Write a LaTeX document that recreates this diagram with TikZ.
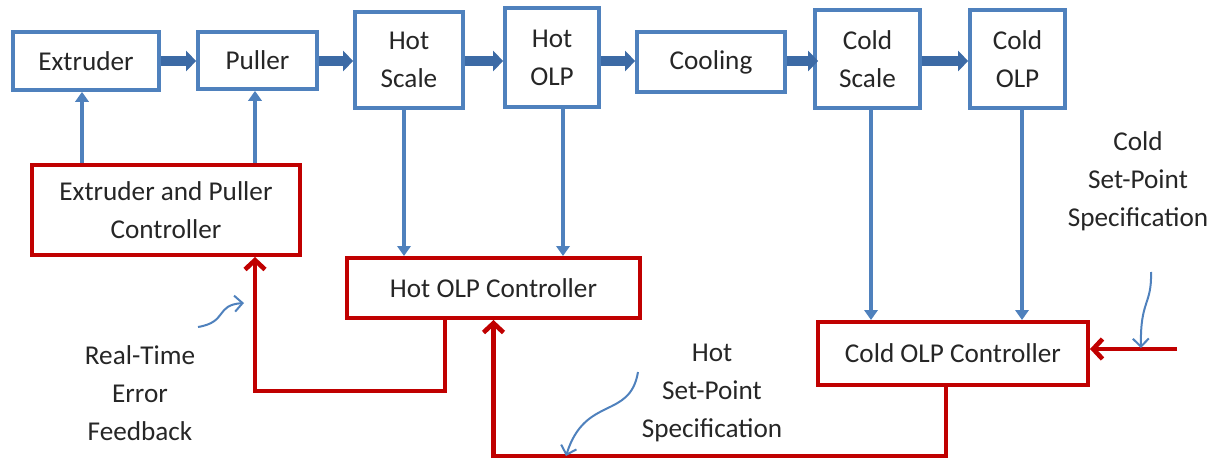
\documentclass[tikz,border=0pt]{standalone}
\usepackage{fontspec}
\setmainfont{Carlito}
\usetikzlibrary{arrows.meta,calc}
\newdimen\pxu
\pxu=0.75pt
\definecolor{boxblue}{HTML}{4F81BD}
\definecolor{flowblue}{HTML}{3C6AA5}
\definecolor{ctrlred}{HTML}{C00000}
\definecolor{txt}{HTML}{262626}
\tikzset{
  procbox/.style={draw=boxblue, line width=2.8pt, fill=white, align=center, text=txt, font=\fontsize{20.4}{28.5}\selectfont, inner sep=0pt},
  ctrlbox/.style={draw=ctrlred, line width=3pt, fill=white, align=center, text=txt, font=\fontsize{20.4}{28.5}\selectfont, inner sep=0pt},
  bigarrow/.style={draw=flowblue, line width=7.5pt, -{Triangle[length=7.5pt,width=15pt]}},
  sensearrow/.style={draw=boxblue, line width=3pt, -{Triangle[length=7.5pt,width=10pt]}},
  redline/.style={draw=ctrlred, line width=3.5pt, -{Straight Barb[length=7pt,width=15pt,line width=3.5pt]}},
  noteline/.style={draw=boxblue, line width=1.5pt, -{Straight Barb[length=6pt,width=12pt,line width=1.5pt]}},
  notetext/.style={align=center, text=txt, font=\fontsize{20.4}{28.5}\selectfont, inner sep=0pt}
}
\begin{document}
\begin{tikzpicture}[x=0.75pt,y=-0.75pt]
\useasboundingbox (0,0) rectangle (1221,460);
% process boxes
\node[procbox, minimum width=146\pxu, minimum height=58\pxu] (extruder) at (86,61) {Extruder};
\node[procbox, minimum width=119\pxu, minimum height=57\pxu] (puller) at (257.5,60.5) {Puller};
\node[procbox, minimum width=108\pxu, minimum height=96\pxu] (hotscale) at (409,60) {Hot\\Scale};
\node[procbox, minimum width=94\pxu, minimum height=99\pxu] (hotolp) at (552,57.5) {Hot\\OLP};
\node[procbox, minimum width=148\pxu, minimum height=60\pxu] (cooling) at (711,62) {Cooling};
\node[procbox, minimum width=105\pxu, minimum height=98\pxu] (coldscale) at (867.5,59) {Cold\\Scale};
\node[procbox, minimum width=95\pxu, minimum height=98\pxu] (coldolp) at (1017.5,59) {Cold\\OLP};
% controllers
\node[ctrlbox, minimum width=268\pxu, minimum height=90\pxu] (epctrl) at (166,210) {Extruder and Puller\\Controller};
\node[ctrlbox, minimum width=293\pxu, minimum height=60\pxu] (hotctrl) at (493.5,288) {Hot OLP Controller};
\node[ctrlbox, minimum width=270\pxu, minimum height=63\pxu] (coldctrl) at (953,353.5) {Cold OLP Controller};
% annotation texts
\node[notetext] (rtef) at (140,393) {Real-Time\\Error\\Feedback};
\node[notetext] (hsp) at (712,393) {Hot\\Set-Point\\Specification};
\node[notetext] (csp) at (1138,181) {Cold\\Set-Point\\Specification};
% main flow arrows
\coordinate (fy) at (0,61);
\draw[bigarrow] (extruder.east |- fy) -- (puller.west |- fy);
\draw[bigarrow] (puller.east |- fy) -- (hotscale.west |- fy);
\draw[bigarrow] (hotscale.east |- fy) -- (hotolp.west |- fy);
\draw[bigarrow] (hotolp.east |- fy) -- (cooling.west |- fy);
\draw[bigarrow] (cooling.east |- fy) -- ($(coldscale.west |- fy)+(5,0)$);
\draw[bigarrow] (coldscale.east |- fy) -- (coldolp.west |- fy);
% actuation arrows
\coordinate (ea) at (82,0);
\coordinate (pa) at (255,0);
\draw[sensearrow] (epctrl.north -| ea) -- (extruder.south -| ea);
\draw[sensearrow] (epctrl.north -| pa) -- (puller.south -| pa);
% measurement arrows
\coordinate (hsx) at (404,0);
\coordinate (hox) at (563,0);
\coordinate (csx) at (871,0);
\coordinate (cox) at (1022,0);
\draw[sensearrow] (hotscale.south -| hsx) -- (hotctrl.north -| hsx);
\draw[sensearrow] (hotolp.south -| hox) -- (hotctrl.north -| hox);
\draw[sensearrow] (coldscale.south -| csx) -- (coldctrl.north -| csx);
\draw[sensearrow] (coldolp.south -| cox) -- (coldctrl.north -| cox);
% red feedback
\coordinate (r1x) at (445,0);
\coordinate (r1y) at (0,391);
\draw[redline] (hotctrl.south -| r1x) -- (r1x |- r1y) -- (pa |- r1y) -- (epctrl.south -| pa);
\coordinate (r2x) at (946,0);
\coordinate (r2y) at (0,456);
\draw[redline] (coldctrl.south -| r2x) -- (r2x |- r2y) -- (hotctrl.south |- r2y) -- (hotctrl.south);
\coordinate (cin) at (1177,349);
\draw[redline] (cin) -- (coldctrl.east |- cin);
% notes
\coordinate (n1a) at (198,327);
\coordinate (n1b) at (244,303);
\draw[noteline] (n1a) .. controls (228,322) and (215,305) .. (n1b);
\coordinate (n2a) at (638,372);
\coordinate (n2b) at (566,456);
\draw[noteline] (n2a) .. controls (630,420) and (585,395) .. (n2b);
\coordinate (n3a) at (1151,272);
\coordinate (n3b) at (1141,348);
\draw[noteline] (n3a) .. controls (1152,305) and (1140,300) .. (n3b);
\end{tikzpicture}
\end{document}
